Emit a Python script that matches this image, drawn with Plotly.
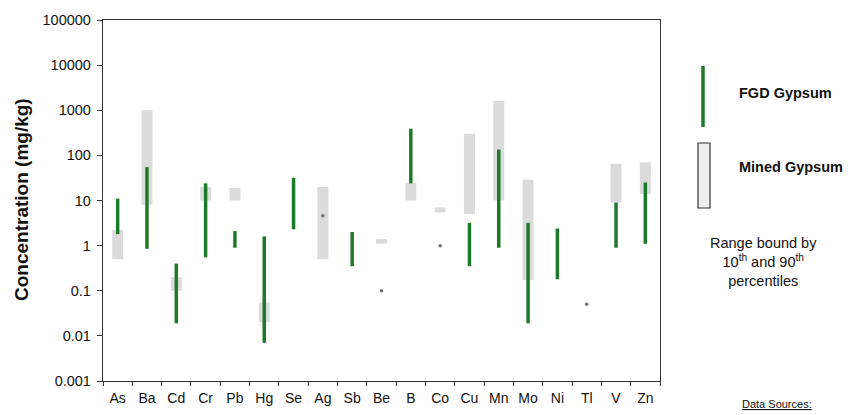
import plotly.graph_objects as go

# ---- data ----
elements = ["As", "Ba", "Cd", "Cr", "Pb", "Hg", "Se", "Ag", "Sb", "Be",
            "B", "Co", "Cu", "Mn", "Mo", "Ni", "Tl", "V", "Zn"]
fgd_low = [1.8, 0.85, 0.019, 0.55, 0.9, 0.007, 2.3, None, 0.35, None,
           24, None, 0.35, 0.9, 0.019, 0.18, None, 0.9, 1.1]
fgd_high = [11, 55, 0.4, 24, 2.1, 1.6, 32, None, 2.0, None,
            390, None, 3.2, 135, 3.2, 2.4, None, 9, 25]
mined_low = [0.5, 8, 0.1, 10, 10, 0.02, None, 0.5, None, 1.1,
             10, 5.5, 5, 10, 0.17, None, None, 9, 14]
mined_high = [2.2, 1000, 0.2, 20, 19, 0.055, None, 20, None, 1.4,
              25, 7, 300, 1600, 29, None, None, 65, 70]
single_elements = ["Ag", "Be", "Co", "Tl"]
single_values = [4.6, 0.1, 1.0, 0.05]

tick_vals = [0.001, 0.01, 0.1, 1, 10, 100, 1000, 10000, 100000]
tick_text = ["0.001", "0.01", "0.1", "1", "10", "100", "1000", "10000", "100000"]


def range_segments(cats, lows, highs):
    xs, ys = [], []
    for c, lo, hi in zip(cats, lows, highs):
        if lo is None or hi is None:
            continue
        xs += [c, c, None]
        ys += [lo, hi, None]
    return xs, ys


FONT = "Arial, Liberation Sans, sans-serif"

fig = go.Figure()

mx, my = range_segments(elements, mined_low, mined_high)
fig.add_trace(go.Scatter(x=mx, y=my, mode="lines", name="Mined Gypsum",
                         line=dict(color="rgba(200,200,200,0.65)", width=11),
                         connectgaps=False, showlegend=False, hoverinfo="skip"))

fx, fy = range_segments(elements, fgd_low, fgd_high)
fig.add_trace(go.Scatter(x=fx, y=fy, mode="lines", name="FGD Gypsum",
                         line=dict(color="#1e7a2a", width=3.5),
                         connectgaps=False, showlegend=False, hoverinfo="skip"))

fig.add_trace(go.Scatter(x=single_elements, y=single_values, mode="markers",
                         marker=dict(color="#707070", size=3.5),
                         showlegend=False, hoverinfo="skip"))

fig.update_xaxes(type="category", categoryorder="array", categoryarray=elements,
                 range=[-0.5, len(elements) - 0.5], automargin=False,
                 showline=True, linecolor="#333", linewidth=1.3, mirror=True,
                 ticks="outside", ticklen=4, tickcolor="#333", tickwidth=1.2,
                 tickson="boundaries", showgrid=False, zeroline=False,
                 tickangle=0,
                 tickfont=dict(family=FONT, size=14, color="#111"),
                 ticklabelstandoff=4)
fig.update_yaxes(type="log", range=[-3, 5], tickvals=tick_vals, ticktext=tick_text,
                 automargin=False,
                 showline=True, linecolor="#333", linewidth=1.3, mirror=True,
                 ticks="outside", ticklen=5, tickcolor="#333", tickwidth=1.2,
                 showgrid=False, zeroline=False,
                 tickfont=dict(family=FONT, size=14.5, color="#111"),
                 ticklabelstandoff=3)

# legend drawn beside the plot
fig.add_shape(type="line", xref="paper", yref="paper",
              x0=1.0772, x1=1.0772, y0=0.7036, y1=0.8726,
              line=dict(color="#1e7a2a", width=3.5))
fig.add_shape(type="rect", xref="paper", yref="paper",
              x0=1.0682, x1=1.0898, y0=0.4792, y1=0.6593,
              line=dict(color="#333", width=1.2), fillcolor="#eeeeee")

fig.add_annotation(text="<b>FGD Gypsum</b>", xref="paper", yref="paper",
                   x=1.1382, y=0.7978, xanchor="left", yanchor="middle",
                   showarrow=False, font=dict(family=FONT, size=14.5, color="#111"))
fig.add_annotation(text="<b>Mined Gypsum</b>", xref="paper", yref="paper",
                   x=1.1382, y=0.5928, xanchor="left", yanchor="middle",
                   showarrow=False, font=dict(family=FONT, size=14.5, color="#111"))
fig.add_annotation(text="Range bound by<br>10<sup>th</sup> and 90<sup>th</sup><br>percentiles",
                   xref="paper", yref="paper", x=1.1867, y=0.3296,
                   xanchor="center", yanchor="middle", align="center",
                   showarrow=False, font=dict(family=FONT, size=14.5, color="#111"))
fig.add_annotation(text="<u>Data Sources:</u>", xref="paper", yref="paper",
                   x=1.21, y=-0.063, xanchor="center", yanchor="middle",
                   showarrow=False, font=dict(family=FONT, size=11, color="#111"))
fig.add_annotation(text="<b>Concentration (mg/kg)</b>", xref="paper", yref="paper",
                   x=-0.1454, y=0.5014, xanchor="center", yanchor="middle",
                   textangle=-90, showarrow=False,
                   font=dict(family=FONT, size=19, color="#111"))

# page has an 8px body margin, so the figure is 8px smaller than the window
fig.update_layout(width=846, height=407,
                  margin=dict(l=95, r=194, t=12, b=34),
                  paper_bgcolor="white", plot_bgcolor="white")

fig.write_html("out.html")
